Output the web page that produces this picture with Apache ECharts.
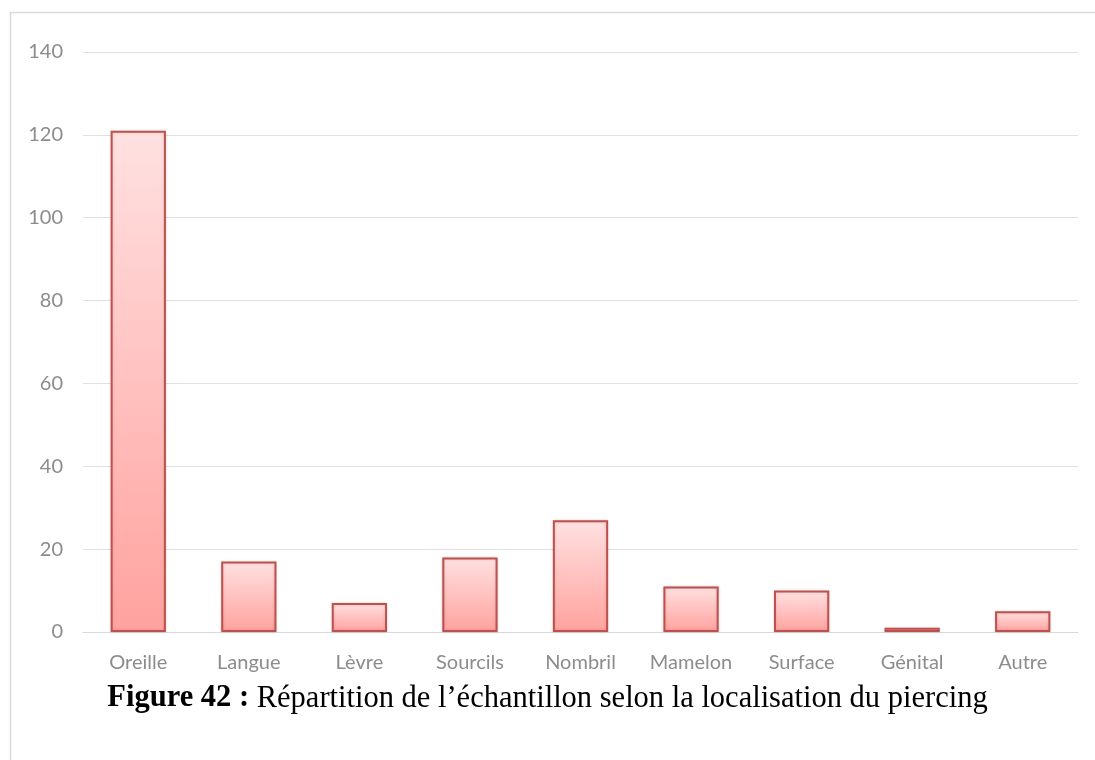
<!DOCTYPE html>
<html>
<head>
<meta charset="utf-8">
<style>
  html, body { margin: 0; padding: 0; background: #fff; }
  #chart { width: 1095px; height: 760px; }
</style>
<script src="https://cdn.jsdelivr.net/npm/echarts@6/dist/echarts.min.js"></script>
</head>
<body>
<div id="chart"></div>
<script>
var categories = ['Oreille', 'Langue', 'Lèvre', 'Sourcils', 'Nombril', 'Mamelon', 'Surface', 'Génital', 'Autre'];
var counts = [121, 17, 7, 18, 27, 11, 10, 1, 5];
var yTicks = [0, 140, 20];

var chart = echarts.init(document.getElementById('chart'), null, { renderer: 'canvas' });
chart.setOption({
  animation: false,
  graphic: [
    {
      type: 'rect',
      shape: { x: 10.5, y: 12.5, width: 1100, height: 800 },
      style: { fill: 'none', stroke: '#d9d9d9', lineWidth: 1.5 }
    },
    {
      type: 'text',
      left: 'center',
      top: 683,
      style: {
        text: '{b|Figure 42 :} Répartition de l’échantillon selon la localisation du piercing',
        rich: {
          b: { fontFamily: 'Liberation Serif', fontWeight: 'bold', fontSize: 30.5, fill: '#000' }
        },
        fontFamily: 'Liberation Serif',
        fontSize: 30.5,
        fill: '#000'
      }
    }
  ],
  grid: { left: 83, right: 17, top: 52, bottom: 128 },
  xAxis: {
    type: 'category',
    data: categories,
    axisLine: { lineStyle: { color: '#d9d9d9' } },
    axisTick: { show: false },
    axisLabel: { color: '#8c8c8c', fontSize: 20, fontFamily: 'Lato', margin: 21 }
  },
  yAxis: {
    type: 'value',
    min: yTicks[0],
    max: yTicks[1],
    interval: yTicks[2],
    axisLine: { show: false },
    axisTick: { show: false },
    axisLabel: { color: '#8c8c8c', fontSize: 20, fontFamily: 'Lato', margin: 20 },
    splitLine: { lineStyle: { color: '#e0e0e0', width: 1 } }
  },
  series: [{
    type: 'bar',
    data: counts,
    barWidth: '50%',
    itemStyle: {
      color: {
        type: 'linear', x: 0, y: 0, x2: 0, y2: 1,
        colorStops: [
          { offset: 0, color: '#ffe1e1' },
          { offset: 1, color: '#ffa29e' }
        ]
      },
      borderColor: '#c0504d',
      borderWidth: 2,
      shadowColor: 'rgba(0,0,0,0.15)',
      shadowBlur: 3
    }
  }]
});
</script>
</body>
</html>
